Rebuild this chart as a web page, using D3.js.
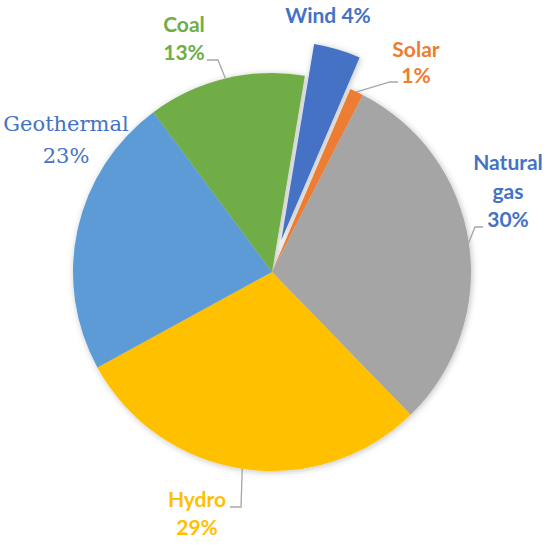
<!DOCTYPE html>
<html>
<head>
<meta charset="utf-8">
<script src="https://cdn.jsdelivr.net/npm/d3@7"></script>
<style>
  body { margin: 0; background: #fff; }
</style>
</head>
<body>
<script>
// data
var sources = ["Wind", "Solar", "Natural gas", "Hydro", "Geothermal", "Coal"];
var shares  = [3.8, 1.1, 30.2, 29.3, 22.8, 12.8];
var colors  = ["#4472C4", "#ED7D31", "#A5A5A5", "#FFC000", "#5B9BD5", "#70AD47"];
var labelColors = ["#4472C4", "#ED7D31", "#4472C4", "#FFC000", "#4472C4", "#70AD47"];
var labelLines = [["Wind 4%"], ["Solar", "1%"], ["Natural", "gas", "30%"], ["Hydro", "29%"], ["Geothermal", "23%"], ["Coal", "13%"]];
var exploded = ["Wind"];

// layout
var width = 550, height = 549,
    cx = 272, cy = 272, radius = 199, explodeBy = 33;

// label text anchor (x, first baseline) and leader elbow/end, per slice
var labelPos = {
  "Wind":        {x: 328, y: 23,  lh: 28},
  "Solar":       {x: 416, y: 57,  lh: 26, elbow: [390, 82], end: [398, 82]},
  "Natural gas": {x: 508, y: 170, lh: 28.5, elbow: [475, 227], end: [483, 227]},
  "Hydro":       {x: 197, y: 507, lh: 28, elbow: [241, 507], end: [230, 507]},
  "Geothermal":  {x: 66,  y: 131, lh: 32, serif: true},
  "Coal":        {x: 184, y: 32,  lh: 28, elbow: [218, 60], end: [207, 60]}
};

var sansFont = "Lato, 'Open Sans', sans-serif",
    serifFont = "'DejaVu Serif', 'Liberation Serif', serif";

var data = sources.map(function(s, i) {
  return {name: s, value: shares[i], color: colors[i], labelColor: labelColors[i], lines: labelLines[i]};
});

var svg = d3.select("body")
    .append("svg")
    .attr("width", width)
    .attr("height", height);

var defs = svg.append("defs");
var shadow = defs.append("filter")
    .attr("id", "shadow")
    .attr("x", "-20%").attr("y", "-20%")
    .attr("width", "140%").attr("height", "140%");
shadow.append("feDropShadow")
    .attr("dx", 1).attr("dy", 1)
    .attr("stdDeviation", 3)
    .attr("flood-color", "#000")
    .attr("flood-opacity", 0.25);

var startAngle = 9.5 * Math.PI / 180;

var pie = d3.pie()
    .sort(null)
    .value(function(d) { return d.value; })
    .startAngle(startAngle)
    .endAngle(startAngle + 2 * Math.PI);

var arc = d3.arc().innerRadius(0).outerRadius(radius);

var arcs = pie(data);

var g = svg.append("g")
    .attr("transform", "translate(" + cx + "," + cy + ")");

g.append("g")
    .attr("filter", "url(#shadow)")
    .selectAll("path")
    .data(arcs)
    .enter().append("path")
    .attr("d", arc)
    .attr("fill", function(d) { return d.data.color; })
    .attr("transform", function(d) {
      if (exploded.indexOf(d.data.name) < 0) return null;
      var m = (d.startAngle + d.endAngle) / 2;
      return "translate(" + (explodeBy * Math.sin(m)) + "," + (-explodeBy * Math.cos(m)) + ")";
    });

// leader lines: from the slice's outer edge at its mid angle
svg.append("g")
    .selectAll("path")
    .data(arcs.filter(function(d) { return labelPos[d.data.name].elbow; }))
    .enter().append("path")
    .attr("fill", "none")
    .attr("stroke", "#A6A6A6")
    .attr("stroke-width", 1.3)
    .attr("d", function(d) {
      var m = (d.startAngle + d.endAngle) / 2;
      var p = labelPos[d.data.name];
      var sx = cx + radius * Math.sin(m), sy = cy - radius * Math.cos(m);
      return d3.line()([[sx, sy], p.elbow, p.end]);
    });

// labels
var labels = svg.append("g")
    .selectAll("text")
    .data(arcs)
    .enter().append("text")
    .attr("text-anchor", "middle")
    .attr("font-family", function(d) { return labelPos[d.data.name].serif ? serifFont : sansFont; })
    .attr("font-weight", function(d) { return labelPos[d.data.name].serif ? "normal" : "bold"; })
    .attr("font-size", 21)
    .attr("fill", function(d) { return d.data.labelColor; });

labels.selectAll("tspan")
    .data(function(d) {
      var p = labelPos[d.data.name];
      return d.data.lines.map(function(t, i) { return {t: t, x: p.x, y: p.y + i * p.lh}; });
    })
    .enter().append("tspan")
    .attr("x", function(d) { return d.x; })
    .attr("y", function(d) { return d.y; })
    .text(function(d) { return d.t; });
</script>
</body>
</html>
